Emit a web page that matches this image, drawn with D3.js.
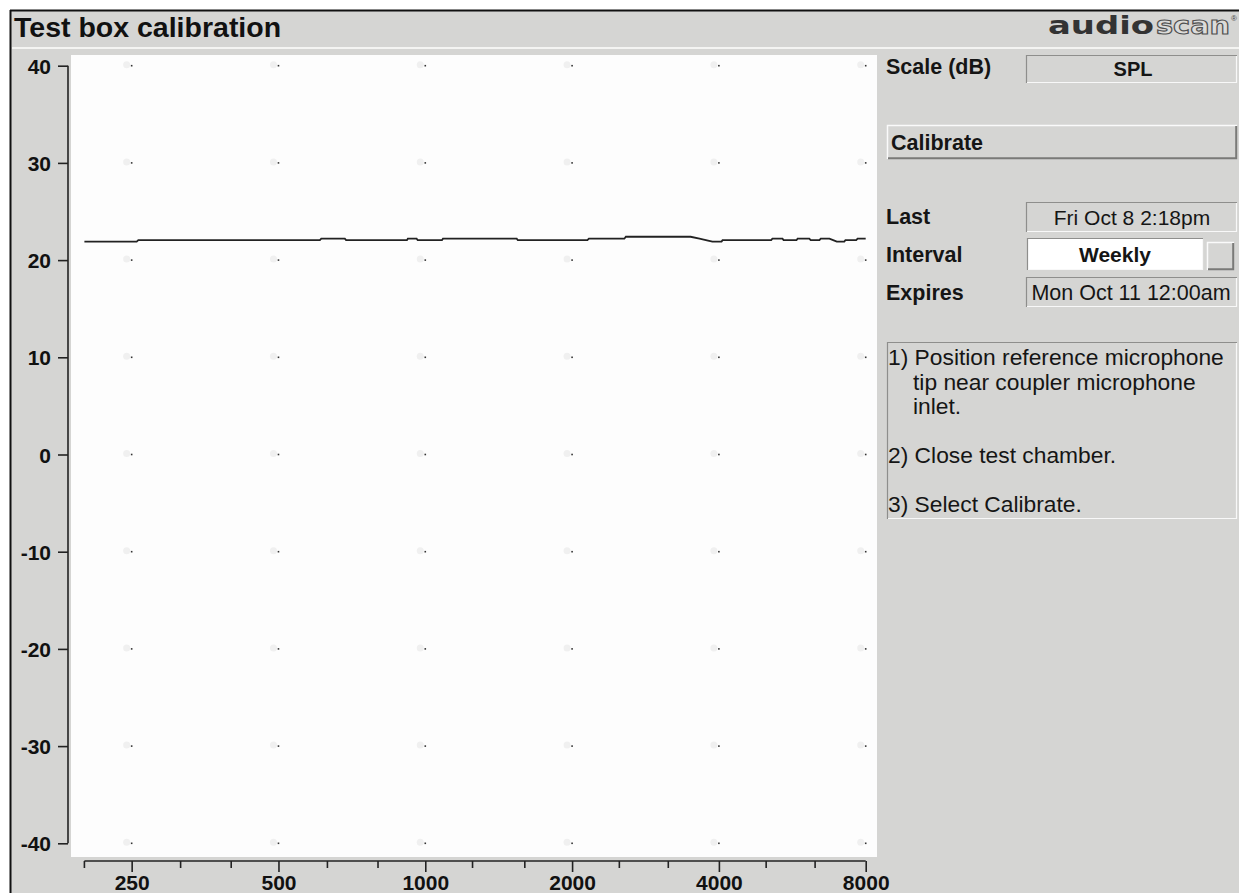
<!DOCTYPE html>
<html>
<head>
<meta charset="utf-8">
<script src="https://cdn.jsdelivr.net/npm/d3@7"></script>
<style>
  body { margin: 0; background: #fff; }
  svg { display: block; font-family: "Liberation Sans", Arial, sans-serif; }
</style>
</head>
<body>
<div id="chart"></div>
<script>
// test box response (Hz, dB SPL)
const freqs = [200, 256, 258, 608, 612, 684, 688, 917, 921, 960, 965, 1082, 1087, 1540, 1548, 2150,
  2165, 2560, 2578, 3500, 3650, 3800, 3880, 4050, 4070, 5120, 5150, 5400, 5430, 5770, 5800, 6130,
  6170, 6430, 6470, 6740, 6900, 6980, 7230, 7270, 7650, 7700, 8000]
const levels = [21.9, 21.9, 22.05, 22.05, 22.2, 22.2, 22.05, 22.05, 22.2, 22.2, 22.05, 22.05, 22.2, 22.2, 22.05, 22.05,
  22.2, 22.2, 22.4, 22.4, 22.2, 22.0, 21.9, 21.9, 22.05, 22.05, 22.2, 22.2, 22.05, 22.05, 22.2, 22.2,
  22.05, 22.05, 22.2, 22.2, 22.0, 21.9, 21.9, 22.05, 22.05, 22.2, 22.2]

const xTicks = [250, 500, 1000, 2000, 4000, 8000]
const xMinorTicks = [200, 315, 400, 630, 800, 1250, 1600, 2500, 3150, 5000, 6300]
const yTicks = [40, 30, 20, 10, 0, -10, -20, -30, -40]

const instructions = [
  { text: "1) Position reference microphone", indent: false, y: 365 },
  { text: "tip near coupler microphone", indent: true, y: 390 },
  { text: "inlet.", indent: true, y: 414 },
  { text: "2) Close test chamber.", indent: false, y: 463 },
  { text: "3) Select Calibrate.", indent: false, y: 512 },
]

const GRAY = "#d5d5d3"
const DARK = "#222"

const svg = d3.select("#chart")
  .append("svg")
  .attr("width", 1239)
  .attr("height", 893)

// screen background + frame
svg.append("rect").attr("x", 10).attr("y", 10).attr("width", 1229).attr("height", 883).attr("fill", GRAY)
svg.append("line").attr("x1", 10).attr("x2", 1239).attr("y1", 10.5).attr("y2", 10.5)
  .attr("stroke", "#111").attr("stroke-width", 2)
svg.append("line").attr("x1", 10.5).attr("x2", 10.5).attr("y1", 10).attr("y2", 893)
  .attr("stroke", "#111").attr("stroke-width", 2)
svg.append("line").attr("x1", 12).attr("x2", 1239).attr("y1", 48).attr("y2", 48)
  .attr("stroke", "#f4f4f2").attr("stroke-width", 2)

svg.append("text")
  .attr("x", 14).attr("y", 37)
  .attr("font-size", 28.5).attr("font-weight", "bold").attr("fill", "#111")
  .text("Test box calibration")

// logo
svg.append("text")
  .attr("x", 1048).attr("y", 34)
  .attr("font-family", "DejaVu Sans").attr("font-weight", "bold").attr("font-size", 25)
  .attr("textLength", 106).attr("lengthAdjust", "spacingAndGlyphs")
  .attr("fill", "#333")
  .text("audio")
svg.append("text")
  .attr("x", 1156).attr("y", 34)
  .attr("font-family", "DejaVu Sans").attr("font-weight", "bold").attr("font-size", 25)
  .attr("textLength", 74).attr("lengthAdjust", "spacingAndGlyphs")
  .attr("fill", "#dcdcda").attr("stroke", "#505050").attr("stroke-width", 1.1)
  .text("scan")
svg.append("text")
  .attr("x", 1231).attr("y", 21)
  .attr("font-size", 8).attr("fill", "#444")
  .text("®")

// plot
const x = d3.scaleLog()
  .domain([200, 8000])
  .range([84.4, 865.7])
const y = d3.scaleLinear()
  .domain([-40, 40])
  .range([843.3, 65.7])

svg.append("rect")
  .attr("x", 71).attr("y", 55).attr("width", 806).attr("height", 802)
  .attr("fill", "#fdfdfd")

// dotted grid
const grid = svg.append("g")
xTicks.forEach(f => {
  yTicks.forEach(v => {
    grid.append("circle")
      .attr("cx", x(f) - 5).attr("cy", y(v) - 1).attr("r", 3.5)
      .attr("fill", "#f0f0f0")
    grid.append("rect")
      .attr("x", x(f) - 0.8).attr("y", y(v) - 0.8).attr("width", 1.6).attr("height", 1.6)
      .attr("fill", "#333")
  })
})

// y axis
const yAxis = svg.append("g")
  .attr("transform", "translate(68,0)")
  .call(d3.axisLeft(y).tickValues(yTicks).tickSize(10).tickPadding(7).tickFormat(d3.format("d")))
yAxis.select(".domain").attr("stroke", DARK).attr("stroke-width", 1.6).attr("d", `M0,${y(40)}V${y(-40)}`)
yAxis.selectAll(".tick line").attr("stroke", DARK).attr("stroke-width", 1.6)
yAxis.selectAll(".tick text")
  .attr("font-family", "Liberation Sans").attr("font-size", 21).attr("font-weight", "bold")
  .attr("fill", "#111").attr("dy", "0.36em")
  .text(d => d < 0 ? "-" + Math.abs(d) : d)

// x axis
const xAxis = svg.append("g")
  .attr("transform", "translate(0,861)")
  .call(d3.axisBottom(x).tickValues(xTicks).tickSize(11).tickPadding(10).tickFormat(d3.format("d")))
xAxis.select(".domain").attr("stroke", DARK).attr("stroke-width", 1.6).attr("d", `M${x(200)},0H${x(8000)}`)
xAxis.selectAll(".tick line").attr("stroke", DARK).attr("stroke-width", 1.6)
xAxis.selectAll(".tick text")
  .attr("font-family", "Liberation Sans").attr("font-size", 21).attr("font-weight", "bold")
  .attr("fill", "#111").attr("y", 29).attr("dy", 0)
xAxis.selectAll(".minor")
  .data(xMinorTicks)
  .join("line")
  .attr("x1", d => x(d)).attr("x2", d => x(d))
  .attr("y1", 0).attr("y2", 7)
  .attr("stroke", DARK).attr("stroke-width", 1.6)

// response curve
const line = d3.line()
  .x(d => x(d[0]))
  .y(d => y(d[1]))
svg.append("path")
  .datum(d3.zip(freqs, levels))
  .attr("d", line)
  .attr("fill", "none")
  .attr("stroke", DARK)
  .attr("stroke-width", 1.8)

// right hand panel
const panel = svg.append("g")

function sunken(px, py, w, h, fill) {
  panel.append("rect").attr("x", px).attr("y", py).attr("width", w).attr("height", h).attr("fill", fill)
  panel.append("path").attr("d", `M${px + 0.5},${py + h}V${py + 0.5}H${px + w}`)
    .attr("fill", "none").attr("stroke", "#8e8e8c").attr("stroke-width", 1.2)
  panel.append("path").attr("d", `M${px + 1},${py + h - 0.5}H${px + w - 0.5}V${py + 1}`)
    .attr("fill", "none").attr("stroke", "#f8f8f8").attr("stroke-width", 1.2)
}
function raised(px, py, w, h) {
  panel.append("rect").attr("x", px).attr("y", py).attr("width", w).attr("height", h).attr("fill", GRAY)
  panel.append("path").attr("d", `M${px + 0.5},${py + h}V${py + 0.5}H${px + w}`)
    .attr("fill", "none").attr("stroke", "#fafafa").attr("stroke-width", 1.5)
  panel.append("path").attr("d", `M${px + 1},${py + h - 0.8}H${px + w - 0.8}V${py + 1}`)
    .attr("fill", "none").attr("stroke", "#7a7a78").attr("stroke-width", 2)
}
function label(tx, ty, txt, opts = {}) {
  panel.append("text")
    .attr("x", tx).attr("y", ty)
    .attr("font-size", opts.size || 21)
    .attr("font-weight", opts.bold === false ? "normal" : "bold")
    .attr("text-anchor", opts.anchor || "start")
    .attr("fill", "#151515")
    .text(txt)
}

label(886, 74, "Scale (dB)", { size: 21.5 })
sunken(1026, 55, 211, 28, GRAY)
label(1133, 76, "SPL", { anchor: "middle", size: 20 })

raised(887, 125, 350, 34)
label(891, 150, "Calibrate", { size: 21.5 })

label(886, 224, "Last", { size: 21.5 })
sunken(1026, 202, 211, 30, GRAY)
label(1132, 225, "Fri Oct 8 2:18pm", { anchor: "middle", bold: false, size: 21 })

label(886, 262, "Interval", { size: 21.5 })
sunken(1027, 238, 176, 32, "#ffffff")
label(1115, 262, "Weekly", { anchor: "middle" })
raised(1207, 242, 27, 28)

label(886, 300, "Expires", { size: 21.5 })
sunken(1026, 277, 211, 30, GRAY)
label(1131, 300, "Mon Oct 11 12:00am", { anchor: "middle", bold: false, size: 21.5 })

sunken(887, 342, 350, 177, GRAY)
instructions.forEach(d => {
  label(d.indent ? 913 : 888, d.y, d.text, { bold: false, size: 22.8 })
})
</script>
</body>
</html>
